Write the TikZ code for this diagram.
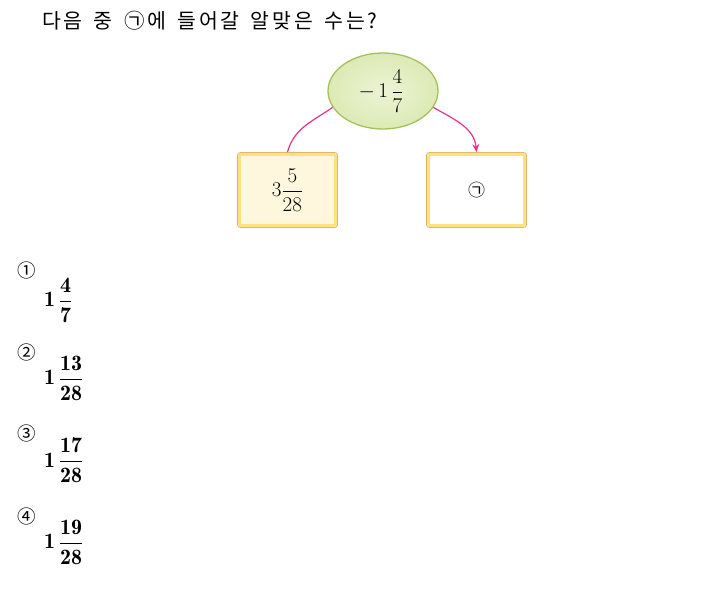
\RequirePackage{fix-cm}
\documentclass[tikz,border=0pt]{standalone}
\usepackage{fontspec}
\usepackage{amsmath}
\newfontfamily\kor[WordSpace=1.5,LetterSpace=14]{Noto Sans CJK KR}
\newfontfamily\korn{Noto Sans CJK KR}
\usetikzlibrary{arrows.meta,shapes.geometric}
\definecolor{ellfill}{HTML}{DCEAB4}
\definecolor{elledge}{HTML}{A5C15E}
\definecolor{boxedge}{HTML}{D9B36E}
\definecolor{boxyellow}{HTML}{FFE27F}
\definecolor{cream}{HTML}{FFF6DE}
\definecolor{arcpink}{HTML}{E8318A}
\newcommand{\bigmath}[1]{{\fontsize{21}{24}\selectfont$#1$}}
\newcommand{\optmath}[1]{{\fontsize{22}{26}\selectfont$#1$}}
\tikzset{
  ansbox/.style={draw=boxedge, line width=0.8pt, rounded corners=3pt, minimum width=100pt, minimum height=75pt, inner sep=0pt},
  optnum/.style={font=\korn\fontsize{18.5}{20}\selectfont, anchor=center, inner sep=0pt},
  optval/.style={anchor=west, inner sep=0pt},
  link/.style={draw=arcpink, line width=1.2pt}
}
\begin{document}
\begin{tikzpicture}[x=1pt,y=-1pt]
\useasboundingbox (0,0) rectangle (707,591);
\node[anchor=west, inner sep=0pt, font=\kor\fontsize{20.5}{22}\selectfont] (title) at (42,21) {다음 중 ㉠에 들어갈 알맞은 수는?};
% boxes
\node[ansbox, fill=cream] (L) at (287.5,190) {};
\node[ansbox, fill=white] (R) at (476.5,190) {};
\draw[boxyellow, line width=2.8pt, rounded corners=2pt] ([shift={(2.3,2.3)}]L.north west) rectangle ([shift={(-2.3,-2.3)}]L.south east);
\draw[boxyellow, line width=2.8pt, rounded corners=2pt] ([shift={(2.3,2.3)}]R.north west) rectangle ([shift={(-2.3,-2.3)}]R.south east);
\node (Lt) at (L.center) {\bigmath{3\dfrac{5}{28}}};
\node[font=\korn\fontsize{17}{19}\selectfont] (Rt) at (R.center) {㉠};
% ellipse
\node[ellipse, draw=elledge, line width=1.3pt, inner color=ellfill!55!white, outer color=ellfill, minimum width=110pt, minimum height=76pt, inner sep=0pt] (E) at (383,91) {};
\node (Et) at ([xshift=-2pt]E.center) {\bigmath{-\,1\,\dfrac{4}{7}}};
% connectors
\draw[link] (L.north) to[out=75,in=215] (E.198);
\draw[link, -{Stealth[length=8pt,width=7pt]}] (E.-18) to[out=-30,in=95] (R.north);
% options
\node[optnum] (n1) at (26.5,270.5) {①};
\node[optval] (v1) at (44,300) {\optmath{\mathbf{1}\,\dfrac{\mathbf{4}}{\mathbf{7}}}};
\node[optnum] (n2) at (26.5,352.5) {②};
\node[optval] (v2) at (44,378) {\optmath{\mathbf{1}\,\dfrac{\mathbf{13}}{\mathbf{28}}}};
\node[optnum] (n3) at (26.5,433.5) {③};
\node[optval] (v3) at (44,460) {\optmath{\mathbf{1}\,\dfrac{\mathbf{17}}{\mathbf{28}}}};
\node[optnum] (n4) at (26.5,516.5) {④};
\node[optval] (v4) at (44,542) {\optmath{\mathbf{1}\,\dfrac{\mathbf{19}}{\mathbf{28}}}};
\end{tikzpicture}
\end{document}
